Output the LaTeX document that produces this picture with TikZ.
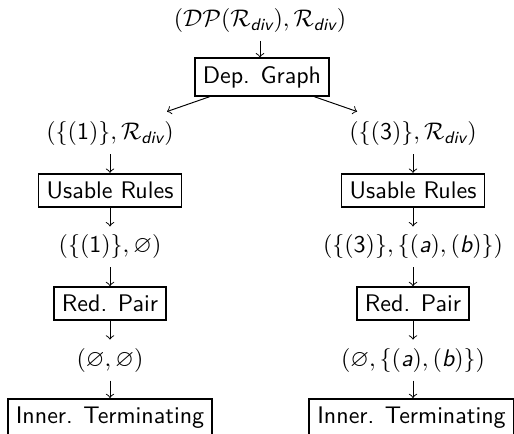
\documentclass[tikz,border=0pt]{standalone}
\usepackage{amsmath,amssymb}
\usepackage{fontspec}
\newcommand\Rdv{\mathcal{R}_{\text{\sffamily\itshape div}}}
\newcommand\sitl[1]{\text{\sffamily\itshape #1}}
\newcommand\sdig[1]{\text{\sffamily #1}}
\begin{document}
\begin{tikzpicture}[x=0.41667pt,y=-0.41667pt,
  txt/.style={font=\sffamily},
  stepbox/.style={draw,line width=0.7pt,font=\sffamily},
  arr/.style={->}]
\useasboundingbox (0,0) rectangle (514,434);
\node[txt] (top) at (260,20.5) {$(\mathcal{DP}(\Rdv),\Rdv)$};
\node[stepbox] (dep) at (262,77.1) {Dep. Graph};
\node[txt] (l1) at (110,133.7) {$(\{(\sdig{1})\},\Rdv)$};
\node[txt] (r1) at (413,133.7) {$(\{(\sdig{3})\},\Rdv)$};
\node[stepbox] (l2) at (110,190.3) {Usable Rules};
\node[stepbox] (r2) at (413,190.3) {Usable Rules};
\node[txt] (l3) at (110,246.9) {$(\{(\sdig{1})\},\varnothing)$};
\node[txt] (r3) at (413,246.9) {$(\{(\sdig{3})\},\{(\sitl{a}),(\sitl{b})\})$};
\node[stepbox] (l4) at (110,303.5) {Red. Pair};
\node[stepbox] (r4) at (413,303.5) {Red. Pair};
\node[txt] (l5) at (110,360.1) {$(\varnothing,\varnothing)$};
\node[txt] (r5) at (413,360.1) {$(\varnothing,\{(\sitl{a}),(\sitl{b})\})$};
\node[stepbox] (l6) at (110,417.7) {Inner. Terminating};
\node[stepbox] (r6) at (411.5,417.7) {Inner. Terminating};
\draw[arr] (top) -- (top |- dep.north);
\draw[arr] ([xshift=6.46pt]dep.south west) -- ([xshift=23.75pt,yshift=0.7pt]l1.north);
\draw[arr] ([xshift=-6.46pt]dep.south east) -- ([xshift=-23.3pt,yshift=0.7pt]r1.north);
\draw[arr] (l1) -- (l1 |- l2.north);
\draw[arr] (l2) -- (l2 |- l3.north);
\draw[arr] (l3) -- (l3 |- l4.north);
\draw[arr] (l4) -- (l4 |- l5.north);
\draw[arr] (l5) -- (l5 |- l6.north);
\draw[arr] (r1) -- (r1 |- r2.north);
\draw[arr] (r2) -- (r2 |- r3.north);
\draw[arr] (r3) -- (r3 |- r4.north);
\draw[arr] (r4) -- (r4 |- r5.north);
\draw[arr] (r5) -- (r5 |- r6.north);
\end{tikzpicture}
\end{document}
